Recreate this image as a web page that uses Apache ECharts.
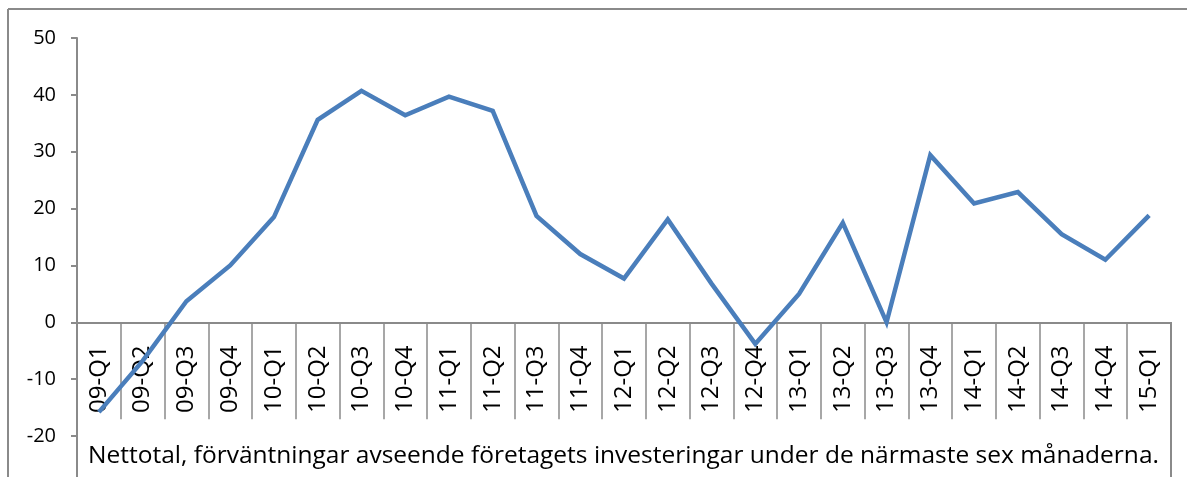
<!DOCTYPE html>
<html>
<head>
<meta charset="utf-8">
<script src="https://cdn.jsdelivr.net/npm/echarts@6/dist/echarts.min.js"></script>
<style>
  html, body { margin: 0; padding: 0; background: #fff; }
  #chart { width: 1187px; height: 477px; }
</style>
</head>
<body>
<div id="chart"></div>
<script>
// kvartal 2009-Q1 .. 2015-Q1
var quarters = ['09-Q1', '09-Q2', '09-Q3', '09-Q4', '10-Q1', '10-Q2', '10-Q3', '10-Q4',
  '11-Q1', '11-Q2', '11-Q3', '11-Q4', '12-Q1', '12-Q2', '12-Q3', '12-Q4',
  '13-Q1', '13-Q2', '13-Q3', '13-Q4', '14-Q1', '14-Q2', '14-Q3', '14-Q4', '15-Q1'];
// nettotal (procent)
var nettotal = [-15.8, -6.8, 3.7, 10.0, 18.5, 35.6, 40.7, 36.4,
  39.7, 37.2, 18.7, 12.0, 7.7, 18.1, 6.8, -3.8,
  5.0, 17.5, 0.0, 29.4, 20.9, 22.9, 15.5, 11.0, 18.8];
var yTicks = { min: -20, max: 50, step: 10 };
var footNote = 'Nettotal, förväntningar avseende företagets investeringar under de närmaste sex månaderna.';

var font = 'Open Sans';
var grey = '#8a8a8a';

var chart = echarts.init(document.getElementById('chart'));

var option = {
    animation: false,
    backgroundColor: '#fff',
    title: {
        text: footNote,
        left: 83,
        top: 439,
        textStyle: { fontFamily: font, fontSize: 24.5, fontWeight: 'normal', color: '#000' }
    },
    grid: {
        left: 77, right: 16, top: 38, bottom: 41,
        containLabel: false,
        outerBoundsMode: 'none'
    },
    xAxis: {
        type: 'category',
        data: quarters,
        boundaryGap: true,
        axisLine: { onZero: true, lineStyle: { color: grey, width: 2 } },
        axisTick: { show: true, inside: false, length: 97, lineStyle: { color: grey, width: 1.5 } },
        axisLabel: {
            interval: 0,
            rotate: 90,
            align: 'left',
            verticalAlign: 'middle',
            margin: -23,
            fontFamily: font,
            fontSize: 24,
            color: '#000'
        },
        splitLine: { show: false }
    },
    yAxis: {
        type: 'value',
        min: yTicks.min,
        max: yTicks.max,
        interval: yTicks.step,
        axisLine: { show: true, lineStyle: { color: grey, width: 2 } },
        axisTick: { show: true, inside: false, length: 6, lineStyle: { color: grey, width: 2 } },
        axisLabel: { fontFamily: font, fontSize: 20, color: '#000', margin: 21 },
        splitLine: { show: false }
    },
    series: [
        {
            name: 'Nettotal',
            type: 'line',
            data: nettotal,
            symbol: 'none',
            lineStyle: { color: '#4a7ebb', width: 4.5, join: 'miter' },
            z: 5
        }
    ],
    graphic: [
        // ram runt diagrammet
        { type: 'line', shape: { x1: 8, y1: 9, x2: 1187, y2: 9 }, style: { stroke: grey, lineWidth: 2 } },
        { type: 'line', shape: { x1: 8, y1: 9, x2: 8, y2: 477 }, style: { stroke: grey, lineWidth: 2 } },
        // förlängning av axlar nedåt
        { type: 'line', shape: { x1: 77, y1: 436, x2: 77, y2: 477 }, style: { stroke: grey, lineWidth: 2 } },
        { type: 'line', shape: { x1: 1171, y1: 322, x2: 1171, y2: 477 }, style: { stroke: grey, lineWidth: 2 } }
    ]
};

chart.setOption(option);
</script>
</body>
</html>
